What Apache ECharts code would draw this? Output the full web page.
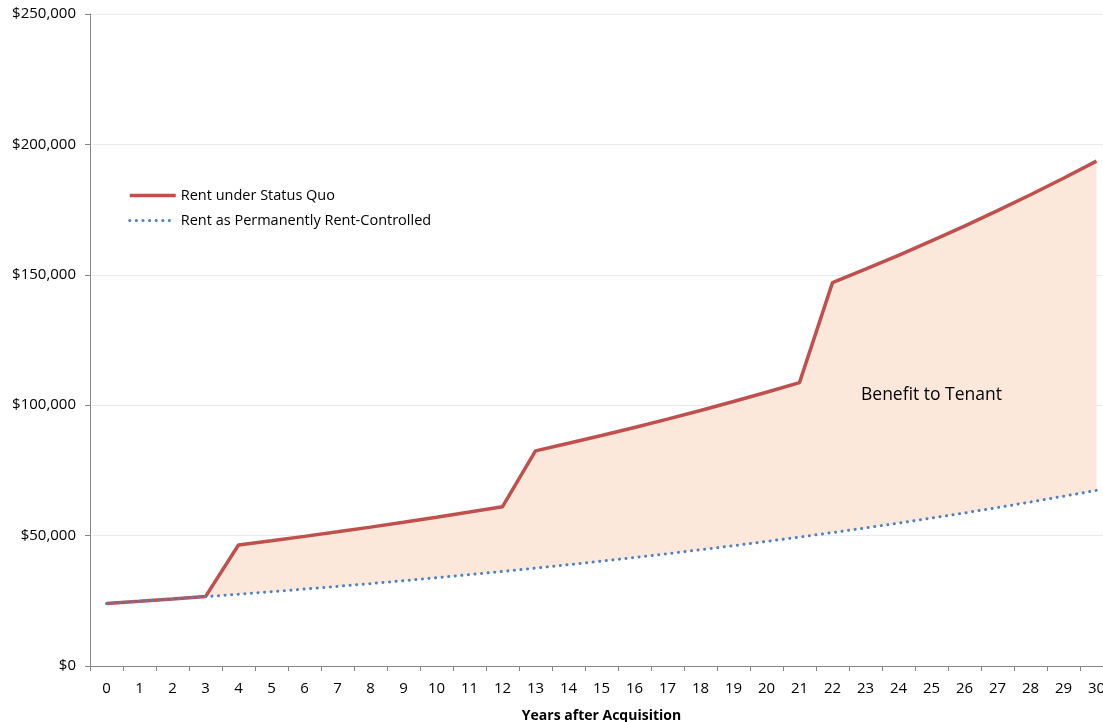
<!DOCTYPE html>
<html>
<head>
<meta charset="utf-8">
<script src="https://cdn.jsdelivr.net/npm/echarts@6/dist/echarts.min.js"></script>
<style>
  html, body { margin: 0; padding: 0; background: #fff; }
  #main { width: 1103px; height: 722px; }
</style>
</head>
<body>
<div id="main"></div>
<script>
// years 0..30
var years = [];
for (var i = 0; i <= 30; i++) years.push(String(i));

// rent
var statusQuo = [24000, 24840, 25710, 26610, 46400, 48020, 49700, 51450, 53250, 55110,
  57040, 59030, 61100, 82500, 85390, 88380, 91470, 94670, 97980, 101410,
  104960, 108640, 147000, 152150, 157470, 162980, 168690, 174590, 180700, 187030, 193570];
var rentControlled = [24000, 24840, 25710, 26610, 27540, 28500, 29500, 30540, 31600, 32710,
  33860, 35040, 36270, 37540, 38850, 40210, 41620, 43070, 44580, 46140,
  47760, 49430, 51160, 52950, 54800, 56720, 58700, 60760, 62890, 65090, 67360];

var gap = statusQuo.map(function (v, i) { return v - rentControlled[i]; });

var font = '"Open Sans", "Liberation Sans", sans-serif';

var myChart = echarts.init(document.getElementById('main'));
option = {
  animation: false,
  textStyle: { fontFamily: font },
  grid: { left: 90, top: 14, bottom: 56, right: -10, containLabel: false, outerBoundsMode: 'none' },
  legend: {
    orient: 'vertical',
    left: 123,
    top: 183,
    itemWidth: 46,
    itemHeight: 10,
    itemGap: 10,
    itemStyle: { opacity: 0 },
    data: [
      { name: 'Rent under Status Quo', lineStyle: { color: '#c0504d', width: 3.5 } },
      { name: 'Rent as Permanently Rent-Controlled', lineStyle: { color: '#4f81bd', width: 3, type: [0.1, 6.5], cap: 'round' } }
    ],
    textStyle: { fontSize: 14.5, color: '#000', fontFamily: font }
  },
  xAxis: {
    type: 'category',
    data: years,
    boundaryGap: true,
    name: 'Years after Acquisition',
    nameLocation: 'middle',
    nameGap: 43,
    nameTextStyle: { fontWeight: 'bold', fontSize: 14, color: '#000' },
    axisLine: { lineStyle: { color: '#868686', width: 1 } },
    axisTick: { show: true, length: 5, lineStyle: { color: '#868686' } },
    axisLabel: { fontSize: 15, color: '#000', margin: 15, interval: 0 },
    splitLine: { show: false }
  },
  yAxis: {
    type: 'value',
    min: 0,
    max: 250000,
    interval: 50000,
    axisLine: { show: true, lineStyle: { color: '#868686' } },
    axisTick: { show: true, length: 5, lineStyle: { color: '#868686' } },
    axisLabel: {
      fontSize: 15, color: '#000', margin: 14,
      formatter: function (v) { return '$' + echarts.format.addCommas(v); }
    },
    splitLine: { lineStyle: { color: '#ebebeb', width: 1 } }
  },
  series: [
    {
      name: 'base',
      type: 'line',
      stack: 'band',
      data: rentControlled,
      symbol: 'none',
      lineStyle: { opacity: 0 },
      silent: true,
      z: 1
    },
    {
      name: 'gap',
      type: 'line',
      stack: 'band',
      data: gap,
      symbol: 'none',
      lineStyle: { opacity: 0 },
      areaStyle: { color: '#fce8da', opacity: 1 },
      silent: true,
      z: 1
    },
    {
      name: 'Rent under Status Quo',
      type: 'line',
      data: statusQuo,
      symbol: 'none',
      color: '#c0504d',
      lineStyle: { color: '#c0504d', width: 3.5 },
      z: 3,
      markPoint: {
        symbol: 'circle',
        symbolSize: 0,
        silent: true,
        label: { show: true, position: 'inside', fontSize: 17.5, color: '#000', fontFamily: font,
          formatter: 'Benefit to Tenant' },
        data: [{ coord: ['25', 104000] }]
      }
    },
    {
      name: 'Rent as Permanently Rent-Controlled',
      type: 'line',
      data: rentControlled,
      symbol: 'none',
      color: '#4f81bd',
      lineStyle: { color: '#4f81bd', width: 3, type: [0.1, 6.5], cap: 'round' },
      z: 4
    }
  ]
};
myChart.setOption(option);
</script>
</body>
</html>
